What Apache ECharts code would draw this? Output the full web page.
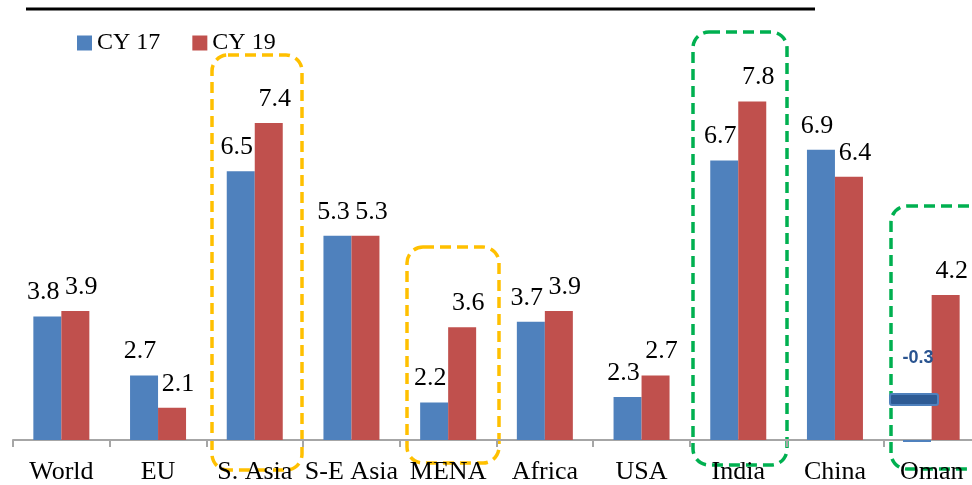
<!DOCTYPE html>
<html><head><meta charset="utf-8">
<script src="https://cdn.jsdelivr.net/npm/echarts@6/dist/echarts.min.js"></script>
<style>html,body{margin:0;padding:0;background:#fff}#c{width:972px;height:485px}</style>
</head><body><div id="c"></div>
<script>
const categories = ['World','EU','S. Asia','S-E Asia','MENA','Africa','USA','India','China','Oman'];
const cy17 = [3.8, 2.7, 6.5, 5.3, 2.2, 3.7, 2.3, 6.7, 6.9, -0.3];
const cy19 = [3.9, 2.1, 7.4, 5.3, 3.6, 3.9, 2.7, 7.8, 6.4, 4.2];
const seriesNames = ['CY 17','CY 19'];

const serif = 'Liberation Serif';
const chart = echarts.init(document.getElementById('c'), null, {renderer:'canvas'});
const lbl = (dx) => ({show:true, position:'top', distance:11, offset:[dx,0], fontFamily:serif, fontSize:26, color:'#000',
  formatter: p => p.value < 0 ? '' : p.value.toFixed(1)});
chart.setOption({
  animation:false,
  legend:{left:72, top:26, itemWidth:15, itemHeight:15, itemGap:32, icon:'rect',
    textStyle:{fontFamily:serif, fontSize:24, color:'#000'}, data:seriesNames},
  grid:{left:13, top:37, width:967, height:403, containLabel:false, outerBoundsMode:'none'},
  xAxis:{type:'category', data:categories,
    axisLine:{lineStyle:{color:'#a6a6a6', width:2}},
    axisTick:{show:true, length:7, lineStyle:{color:'#a6a6a6', width:2}},
    axisLabel:{fontFamily:serif, fontSize:26, color:'#000', margin:19, interval:0}},
  yAxis:{type:'value', min:1.5, max:9, show:false, splitLine:{show:false}},
  series:[
    {name:seriesNames[0], type:'bar', data:cy17, barWidth:28, barGap:'0%',
      itemStyle:{color:'#4f81bd'}, label:lbl(-4)},
    {name:seriesNames[1], type:'bar', data:cy19, barWidth:28,
      itemStyle:{color:'#c0504d'}, label:lbl(6)}
  ],
  graphic:[
    {type:'line', shape:{x1:26,y1:9,x2:815,y2:9}, style:{stroke:'#000', lineWidth:3}},
    {type:'rect', shape:{x:212,y:55,width:90,height:415,r:16}, style:{fill:'none', stroke:'#ffc000', lineWidth:3.5, lineDash:[11,6]}},
    {type:'rect', shape:{x:407,y:247,width:92,height:216,r:16}, style:{fill:'none', stroke:'#ffc000', lineWidth:3.5, lineDash:[11,6]}},
    {type:'rect', shape:{x:693,y:32,width:94,height:433,r:16}, style:{fill:'none', stroke:'#00b050', lineWidth:3.5, lineDash:[11,6]}},
    {type:'rect', shape:{x:891,y:206,width:100,height:263,r:16}, style:{fill:'none', stroke:'#00b050', lineWidth:3.5, lineDash:[11,6]}},
    {type:'rect', z:50, shape:{x:890,y:394,width:48,height:11,r:2}, style:{fill:'#2e5b94', stroke:'#4f81bd', lineWidth:2}},
    {type:'rect', z:50, shape:{x:903,y:440,width:28,height:2}, style:{fill:'#4f81bd'}},
    {type:'text', z:50, x:918, y:358, style:{text:'-0.3', fill:'#2a5490', font:'bold 18px "Liberation Sans"', align:'center', verticalAlign:'middle'}}
  ]
});
</script></body></html>
